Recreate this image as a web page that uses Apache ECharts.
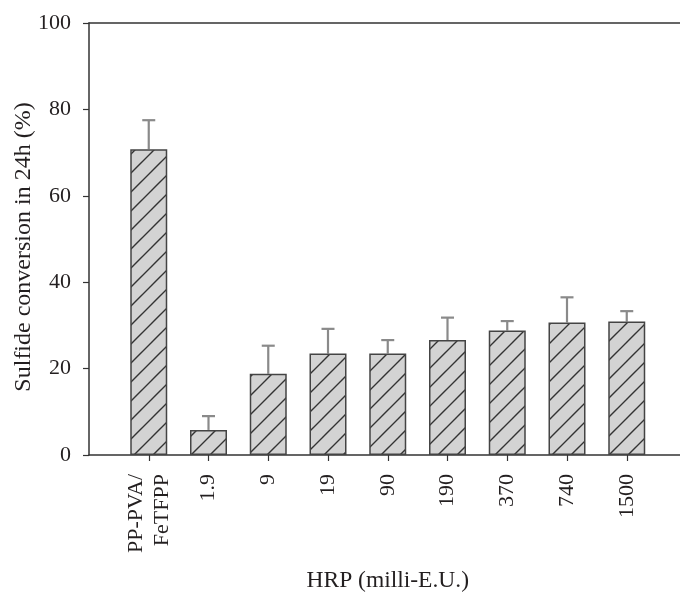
<!DOCTYPE html>
<html>
<head>
<meta charset="utf-8">
<script src="https://cdn.jsdelivr.net/npm/echarts@6/dist/echarts.min.js"></script>
<style>
html,body{margin:0;padding:0;background:#fff;}
#chart{width:680px;height:596px;}
</style>
</head>
<body>
<div id="chart"></div>
<script>
// ---- data ----
var categories = ['PP-PVA/\nFeTFPP', '1.9', '9', '19', '90', '190', '370', '740', '1500'];
var conversion = [70.8, 5.8, 18.8, 23.5, 23.5, 26.6, 28.8, 30.7, 30.9];
var errorUpper = [6.7, 3.2, 6.5, 5.7, 3.1, 5.2, 2.2, 5.8, 2.4];
var yTicks = [0, 20, 40, 60, 80, 100];

var axisCats = [''].concat(categories).concat(['']);
var barData = ['-'].concat(conversion).concat(['-']);
var errData = conversion.map(function (v, i) { return [i + 1, v, v + errorUpper[i]]; });

var tile = document.createElement('canvas');
var S = 19;
tile.width = S; tile.height = S;
var c = tile.getContext('2d');
c.fillStyle = '#d3d3d3';
c.fillRect(0, 0, S, S);
c.strokeStyle = '#333333';
c.lineWidth = 1.4;
c.beginPath();
c.moveTo(-2, S + 2); c.lineTo(S + 2, -2);
c.moveTo(-2, 2); c.lineTo(2, -2);
c.moveTo(S - 2, S + 2); c.lineTo(S + 2, S - 2);
c.stroke();

var FONT = 'Liberation Serif';
var TXT = '#231f20';
var AX = '#333333';

var chart = echarts.init(document.getElementById('chart'), null, {renderer: 'canvas'});
chart.setOption({
  animation: false,
  backgroundColor: '#ffffff',
  grid: {left: 89, top: 23, width: 597.5, height: 432, containLabel: false, outerBoundsMode: 'none'},
  xAxis: [{
    type: 'category',
    data: axisCats,
    boundaryGap: false,
    axisLine: {show: true, lineStyle: {color: AX, width: 1.5}},
    axisTick: {show: true, length: 6, inside: false, alignWithLabel: true,
      interval: function (idx, val) { return val !== ''; },
      lineStyle: {color: AX, width: 1.2}},
    axisLabel: {interval: 0, rotate: 90, margin: 19, fontFamily: FONT, fontSize: 22,
      color: TXT, lineHeight: 26},
    splitLine: {show: false},
    name: 'HRP (milli-E.U.)',
    nameLocation: 'middle',
    nameGap: 114,
    nameTextStyle: {fontFamily: FONT, fontSize: 23.5, color: TXT}
  }, {
    type: 'category',
    data: axisCats,
    boundaryGap: false,
    position: 'top',
    axisLine: {show: true, onZero: false, lineStyle: {color: AX, width: 1.5}},
    axisTick: {show: false},
    axisLabel: {show: false},
    splitLine: {show: false}
  }],
  yAxis: {
    type: 'value',
    min: yTicks[0],
    max: yTicks[yTicks.length - 1],
    interval: 20,
    axisLine: {show: true, lineStyle: {color: AX, width: 1.5}},
    axisTick: {show: true, length: 6, inside: false, lineStyle: {color: AX, width: 1.2}},
    axisLabel: {margin: 18, fontFamily: FONT, fontSize: 22, color: TXT},
    splitLine: {show: false},
    name: 'Sulfide conversion in 24h (%)',
    nameLocation: 'middle',
    nameGap: 53,
    nameMoveOverlap: false,
    nameTextStyle: {fontFamily: FONT, fontSize: 24, color: TXT, padding: [0, 16, 0, 0]}
  },
  series: [{
    type: 'bar',
    data: barData,
    barWidth: 37,
    itemStyle: {color: {image: tile, repeat: 'repeat'}, borderColor: '#444444', borderWidth: 1.5},
    z: 3
  }, {
    type: 'custom',
    data: errData,
    z: 2,
    renderItem: function (params, api) {
      var x = api.value(0);
      var base = api.coord([x, api.value(1)]);
      var top = api.coord([x, api.value(2)]);
      var hw = 6.5;
      var st = {stroke: '#8a8a8a', lineWidth: 2.2};
      return {
        type: 'group',
        children: [
          {type: 'line', shape: {x1: base[0], y1: base[1], x2: top[0], y2: top[1]}, style: st},
          {type: 'line', shape: {x1: top[0] - hw, y1: top[1], x2: top[0] + hw, y2: top[1]}, style: st}
        ]
      };
    }
  }]
});
</script>
</body>
</html>
